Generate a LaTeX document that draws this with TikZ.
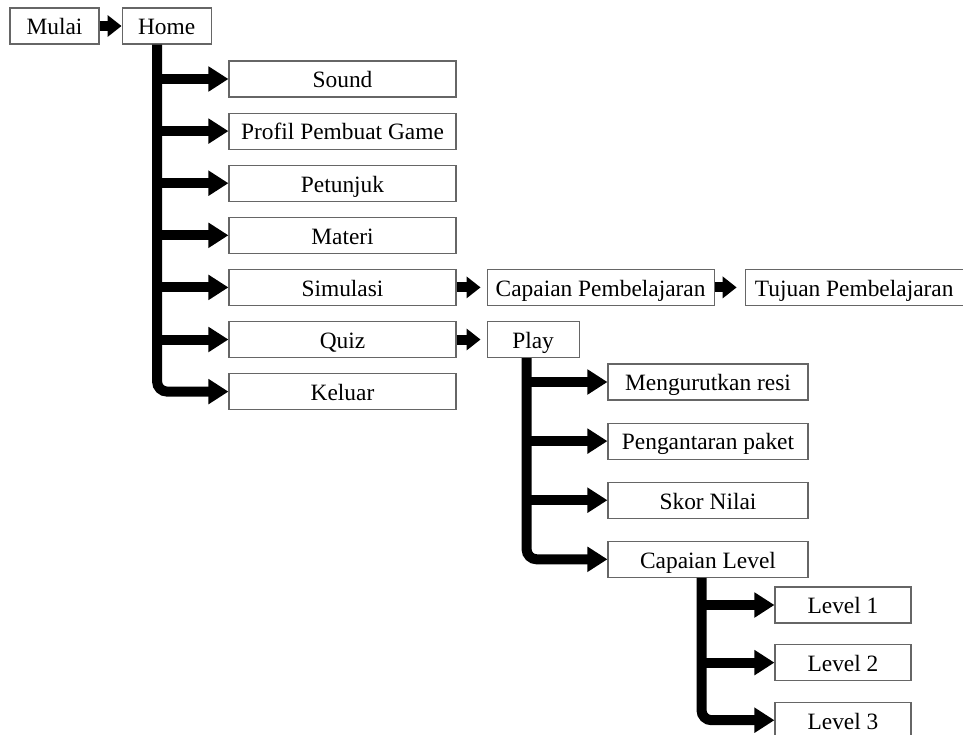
\documentclass[tikz,border=0pt]{standalone}
\usepackage{fontspec}
\setmainfont{Liberation Serif}
\usetikzlibrary{arrows.meta,positioning}
\tikzset{
    %Define style for boxes
    menu/.style={
           rectangle,
           draw=black!60, line width=1.1pt,
           fill=white,
           minimum height=36pt,
           inner sep=2pt,
           text height=21pt, text depth=3.4pt,
           font=\fontsize{23.4}{28}\selectfont,
           text centered},
    % Define arrow styles
    flow/.style={
           -{Triangle[length=20pt,width=24pt]},
           line width=10pt},
    trunk/.style={flow, rounded corners=10pt},
    link/.style={
           -{Triangle[length=14pt,width=21pt]},
           line width=10pt}
}
\begin{document}
\begin{tikzpicture}[x=1pt,y=-1pt]
\useasboundingbox (0,0) rectangle (963,734);
% start
\node[menu, minimum width=89pt] (Mulai) at (54.5,26) {Mulai};
\node[menu, minimum width=89pt, right=22pt of Mulai] (Home) {Home};
% home menu
\node[menu, minimum width=227pt] (Sound) at (342.5,79) {Sound};
\node[menu, minimum width=227pt, below=15pt of Sound] (Profil) {Profil Pembuat Game};
\node[menu, minimum width=227pt, below=15pt of Profil] (Petunjuk) {Petunjuk};
\node[menu, minimum width=227pt, below=15pt of Petunjuk] (Materi) {Materi};
\node[menu, minimum width=227pt, below=15pt of Materi] (Simulasi) {Simulasi};
\node[menu, minimum width=227pt, below=15pt of Simulasi] (Quiz) {Quiz};
\node[menu, minimum width=227pt, below=15pt of Quiz] (Keluar) {Keluar};
% simulasi
\node[menu, minimum width=227pt, right=30pt of Simulasi] (Capaian) {Capaian Pembelajaran};
\node[menu, minimum width=218pt, right=30pt of Capaian] (Tujuan) {Tujuan Pembelajaran};
% quiz
\node[menu, minimum width=92pt, right=30pt of Quiz] (Play) {Play};
\node[menu, minimum width=200pt] (Resi) at (708,382) {Mengurutkan resi};
\node[menu, minimum width=200pt, below=22pt of Resi] (Paket) {Pengantaran paket};
\node[menu, minimum width=200pt, below=22pt of Paket] (Skor) {Skor Nilai};
\node[menu, minimum width=200pt, below=22pt of Skor] (CapLevel) {Capaian Level};
% levels
\node[menu, minimum width=136pt] (Level1) at (843,605) {Level 1};
\node[menu, minimum width=136pt, below=20.5pt of Level1] (Level2) {Level 2};
\node[menu, minimum width=136pt, below=20.5pt of Level2] (Level3) {Level 3};
% trunk points
\coordinate (homeT) at ([xshift=-9.5pt]Home.south);
\coordinate (playT) at ([xshift=-6.5pt]Play.south);
\coordinate (levelT) at ([xshift=-6.5pt]CapLevel.south);
% connectors
\draw[link] (Mulai) -- (Home);
\draw[link, shorten >=6pt] (Simulasi) -- (Capaian);
\draw[link, shorten >=8pt] (Capaian) -- (Tujuan);
\draw[link, shorten >=6pt] (Quiz) -- (Play);
\draw[trunk] (homeT) |- (Keluar.west);
\foreach \b in {Sound,Profil,Petunjuk,Materi,Simulasi,Quiz}
    \draw[flow] (homeT |- \b.west) -- (\b.west);
\draw[trunk] (playT) |- (CapLevel.west);
\foreach \b in {Resi,Paket,Skor}
    \draw[flow] (playT |- \b.west) -- (\b.west);
\draw[trunk] (levelT) |- (Level3.west);
\foreach \b in {Level1,Level2}
    \draw[flow] (levelT |- \b.west) -- (\b.west);
\end{tikzpicture}
\end{document}
